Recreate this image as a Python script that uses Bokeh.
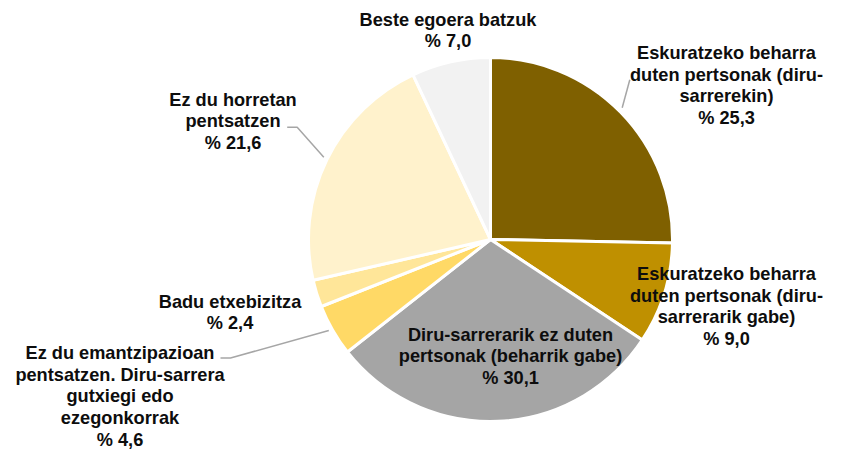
import math
from bokeh.plotting import figure
from bokeh.models import ColumnDataSource, Range1d
from bokeh.core.properties import value
from bokeh.embed import file_html
from bokeh.resources import INLINE

# ---- data ----
categories = [
    "Eskuratzeko beharra\nduten pertsonak (diru-\nsarrerekin)",
    "Eskuratzeko beharra\nduten pertsonak (diru-\nsarrerarik gabe)",
    "Diru-sarrerarik ez duten\npertsonak (beharrik gabe)",
    "Ez du emantzipazioan\npentsatzen. Diru-sarrera\ngutxiegi edo\nezegonkorrak",
    "Badu etxebizitza",
    "Ez du horretan\npentsatzen",
    "Beste egoera batzuk",
]
values = [25.3, 9.0, 30.1, 4.6, 2.4, 21.6, 7.0]
value_labels = ["% 25,3", "% 9,0", "% 30,1", "% 4,6", "% 2,4", "% 21,6", "% 7,0"]

# ---- styles / layout ----
colors = ["#7F6000", "#BF9000", "#A5A5A5", "#FFD966", "#FFE699", "#FFF2CC", "#F2F2F2"]
W, H = 825, 455
CX, CY, R = 490, 239, 182          # picture pixel coordinates
label_pos = [(726, 85), (726, 306), (510, 356), (119.5, 396),
             (229.5, 312), (232.5, 121), (447.5, 30)]
leaders = [
    [(621.7, 107.3), (629.3, 79.3)],
    [(286.7, 126.7), (296.7, 126.7), (323.3, 156.7)],
    [(220, 357.5), (230, 357.5), (328.3, 330)],
]

def X(px):
    return px

def Y(py):
    return H - py

total = sum(values)
starts, ends = [], []
cum = 0.0
for v in values:
    starts.append(math.pi / 2 - 2 * math.pi * cum / total)
    cum += v
    ends.append(math.pi / 2 - 2 * math.pi * cum / total)

p = figure(width=W, height=H, x_range=Range1d(0, W), y_range=Range1d(0, H),
           output_backend="svg", toolbar_location=None, min_border=0,
           x_axis_location=None, y_axis_location=None)
p.grid.visible = False
p.outline_line_color = None

src = ColumnDataSource(dict(start=starts, end=ends, color=colors,
                            x=[X(CX)] * len(values), y=[Y(CY)] * len(values)))
p.wedge(x="x", y="y", radius=R, start_angle="start", end_angle="end",
        direction="clock", fill_color="color", line_color="white", line_width=3,
        source=src)

for seg in leaders:
    p.line([X(a) for a, b in seg], [Y(b) for a, b in seg],
           line_color="#A6A6A6", line_width=1.5)

lab = ColumnDataSource(dict(
    x=[X(a) for a, b in label_pos], y=[Y(b) for a, b in label_pos],
    text=[c + "\n" + v for c, v in zip(categories, value_labels)]))
p.text(x="x", y="y", text="text", source=lab, text_align="center",
       text_baseline="middle", text_font=value("Liberation Sans"),
       text_font_style="bold", text_font_size="18.2px", text_color="#0D0D0D",
       text_line_height=1.09)

open("out.html", "w").write(file_html(p, INLINE))
